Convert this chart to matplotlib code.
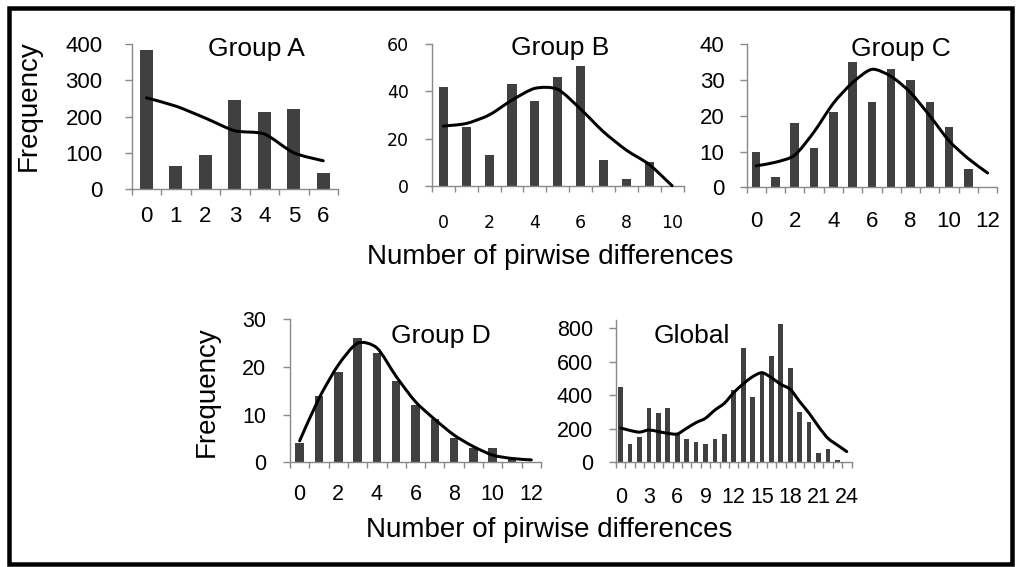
import numpy as np
import matplotlib
matplotlib.use("Agg")
import matplotlib.pyplot as plt
from matplotlib.path import Path
from matplotlib.patches import PathPatch, Rectangle

plt.rcParams['font.family'] = ['Liberation Sans', 'DejaVu Sans']

# ---- data: observed frequencies (bars) and expected curves (lines) ----
a_cats = list(range(0, 7))
a_bars = [385, 64, 93, 247, 212, 222, 45]
a_line = [252, 229, 196, 161, 152, 100, 78]

b_cats = list(range(0, 11))
b_bars = [42, 25, 13, 43, 36, 46, 51, 11, 3, 10, 0]
b_line = [25.3, 26.4, 30, 36.3, 41.3, 40.9, 32.5, 22.9, 15.1, 9.0, 0]

c_cats = list(range(0, 13))
c_bars = [10, 3, 18, 11, 21, 35, 24, 33, 30, 24, 17, 5, 0]
c_line = [6, 7, 9, 15.5, 23.5, 29.3, 33, 31, 26.5, 20, 13, 8, 4]

d_cats = list(range(0, 13))
d_bars = [4, 14, 19, 26, 23, 17, 12, 9, 5, 3, 3, 1, 0]
d_line = [4.5, 13.4, 20.4, 25, 24, 18, 12.7, 9, 5.7, 3.3, 1.5, 0.8, 0.5]

g_cats = list(range(0, 25))
g_bars = [450, 110, 150, 325, 295, 325, 175, 140, 120, 110, 140, 170, 430,
          680, 390, 525, 635, 825, 565, 302, 242, 54, 78, 14, 0]
g_line = [205, 190, 180, 193, 183, 173, 169, 203, 237, 263, 312, 352, 416,
          468, 511, 535, 505, 465, 436, 362, 293, 213, 143, 103, 64]

W, H = 1018, 567
fig = plt.figure(figsize=(W / 100, H / 100), dpi=100)
PT = 72 / 100  # points per pixel

BAR_COLOR = '#404040'
AXIS_COLOR = '#8a8a8a'
TENSION = 0.13


def smooth_path(xs, ys):
    """Cubic Bezier path through the points (smoothed line)."""
    pts = np.column_stack([xs, ys]).astype(float)
    n = len(pts)
    verts = [pts[0]]
    codes = [Path.MOVETO]
    for i in range(n - 1):
        p0 = pts[i - 1] if i > 0 else pts[i]
        p1 = pts[i]
        p2 = pts[i + 1]
        p3 = pts[i + 2] if i + 2 < n else pts[i + 1]
        c1 = p1 + (p2 - p0) * TENSION
        c2 = p2 - (p3 - p1) * TENSION
        verts += [c1, c2, p2]
        codes += [Path.CURVE4] * 3
    return Path(verts, codes)


def panel(left, right, top, bottom, cats, bars, line, ymax, yticks,
          label_step, fs, ypad, xpad, bar_w=0.44, family=None,
          ymax_axis=None):
    ax = fig.add_axes([left / W, 1 - bottom / H, (right - left) / W,
                       (bottom - top) / H])
    n = len(cats)
    ax.bar(cats, bars, width=bar_w, color=BAR_COLOR, zorder=2)
    path = smooth_path(cats, line)
    ax.add_patch(PathPatch(path, fill=False, ec='black', lw=3.0 * PT,
                           zorder=3, clip_on=False, capstyle='round',
                           joinstyle='round'))
    ax.set_xlim(-0.5, n - 0.5)
    ax.set_ylim(0, ymax_axis if ymax_axis else ymax)
    for s in ['top', 'right']:
        ax.spines[s].set_visible(False)
    for s in ['left', 'bottom']:
        ax.spines[s].set_color(AXIS_COLOR)
        ax.spines[s].set_linewidth(1.4 * PT)
    ax.set_yticks(yticks)
    ax.set_yticklabels([str(v) for v in yticks])
    ax.tick_params(axis='y', direction='out', length=7 * PT,
                   width=1.4 * PT, color=AXIS_COLOR, pad=ypad * PT,
                   labelsize=fs)
    lab_pos = [c for c in cats if c % label_step == 0]
    ax.set_xticks(lab_pos)
    ax.set_xticklabels([str(c) for c in lab_pos])
    ax.set_xticks(np.arange(-0.5, n, 1.0), minor=True)
    ax.tick_params(axis='x', which='major', length=0, pad=xpad * PT,
                   labelsize=fs)
    ax.tick_params(axis='x', which='minor', direction='out', length=6 * PT,
                   width=1.4 * PT, color=AXIS_COLOR)
    if family:
        for t in ax.get_xticklabels() + ax.get_yticklabels():
            t.set_family(family)
    ax.patch.set_visible(False)
    return ax


panel(131.7, 338.0, 44.3, 189.0, a_cats, a_bars, a_line, 400,
      [0, 100, 200, 300, 400], 1, 16, 22, 17)
panel(431.9, 683.5, 44.3, 185.7, b_cats, b_bars, b_line, 60,
      [0, 20, 40, 60], 2, 12.5, 16, 28, bar_w=0.40, family='DejaVu Sans')
panel(746.5, 997.3, 44.3, 187.3, c_cats, c_bars, c_line, 40,
      [0, 10, 20, 30, 40], 2, 16, 15, 24)
panel(290.0, 541.0, 319.3, 462.3, d_cats, d_bars, d_line, 30,
      [0, 10, 20, 30], 2, 15.5, 17, 22)
panel(616.0, 851.5, 319.9, 462.3, g_cats, g_bars, g_line, 800,
      [0, 200, 400, 600, 800], 3, 15.5, 16, 25, bar_w=0.5, ymax_axis=850)


def ftext(x, y, s, **kw):
    fig.text(x / W, 1 - y / H, s, **kw)


# panel titles (baseline positions)
title_kw = dict(ha='center', va='baseline', fontsize=19)
ftext(256, 56, 'Group A', **title_kw)
ftext(560, 55, 'Group B', **title_kw)
ftext(901, 56, 'Group C', **title_kw)
ftext(441, 343, 'Group D', **title_kw)
ftext(692, 343, 'Global', **title_kw)

# axis titles
ftext(550, 264, 'Number of pirwise differences', ha='center',
      va='baseline', fontsize=20)
ftext(549, 537, 'Number of pirwise differences', ha='center',
      va='baseline', fontsize=20)
ftext(28.7, 106, 'Frequency', ha='center', va='center', rotation=90,
      fontsize=20)
ftext(206.5, 392, 'Frequency', ha='center', va='center', rotation=90,
      fontsize=20)

# outer frame
fig.add_artist(Rectangle((8.5 / W, 1 - 564 / H), (1012 - 8.5) / W,
                         (564 - 7.5) / H, transform=fig.transFigure,
                         fill=False, ec='black', lw=4.5 * PT))

fig.savefig('out.png', dpi=100, facecolor='white')
